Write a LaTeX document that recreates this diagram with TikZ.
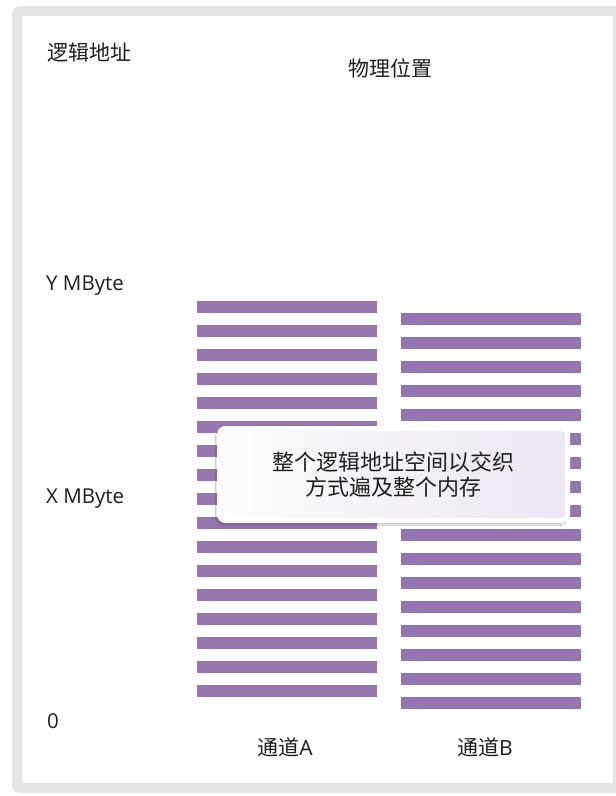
\documentclass[tikz,border=0pt]{standalone}
\usepackage{fontspec}
\setmainfont{Noto Sans CJK SC}
\newfontfamily\latf{Open Sans}
\usetikzlibrary{shadows,shadows.blur}
\definecolor{stripe}{RGB}{149,117,174}
\definecolor{txt}{RGB}{30,30,30}
\definecolor{framegray}{RGB}{229,229,229}
\tikzset{
  lbl/.style={font=\fontsize{21}{24}\selectfont, text=txt, inner sep=0pt},
  latlbl/.style={font=\latf\fontsize{20.5}{22}\selectfont, text=txt, inner sep=0pt},
  bar/.style={fill=stripe, draw=none},
}
\begin{document}
\begin{tikzpicture}[x=1pt,y=-1pt]
\useasboundingbox (0,0) rectangle (616,796);
\fill[white] (0,0) rectangle (616,796);
% frame
\fill[framegray, rounded corners=8pt] (12,6) rectangle (650,793);
\fill[white] (22,16) rectangle (613,783);
% labels
\node[lbl, anchor=west] (la) at (47,53) {逻辑地址};
\node[lbl] (pl) at (390,68) {物理位置};
\node[latlbl, anchor=west] (y) at (46,286) {Y MByte};
\node[latlbl, anchor=west] (x) at (46,499) {X MByte};
\node[latlbl, anchor=west] (z) at (47,721) {0};
\node[lbl] (ca) at (285,747) {通道{\latf A}};
\node[lbl] (cb) at (485,747) {通道{\latf B}};
% stripes
\foreach \i in {0,...,16} {
  \fill[bar] (197,{301+24*\i}) rectangle (377,{313+24*\i});
  \fill[bar] (401,{313+24*\i}) rectangle (581,{325+24*\i});
}
% callout
\node[draw=white, line width=5pt, rounded corners=6pt,
      left color=white!95!stripe!30, right color=stripe!18,
      blur shadow={shadow xshift=-2pt, shadow yshift=-3pt, shadow blur steps=6, shadow opacity=40},
      minimum width=348pt, minimum height=92pt, align=center,
      font=\fontsize{22}{25}\selectfont, text=txt] (call) at (393.5,474.5)
  {整个逻辑地址空间以交织\\方式遍及整个内存};
\end{tikzpicture}
\end{document}
